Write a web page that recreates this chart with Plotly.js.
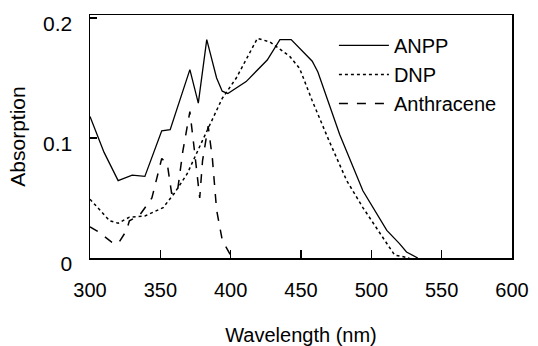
<!DOCTYPE html>
<html>
<head>
<meta charset="utf-8">
<script src="https://cdn.plot.ly/plotly-3.0.1.min.js"></script>
<style>html,body{margin:0;padding:0;background:#fff;}#chart{width:538px;height:346px;}</style>
</head>
<body>
<div id="chart"></div>
<script>
// ANPP (solid)
const anppX = [300, 310, 320, 330, 339, 351, 357, 364, 371, 377, 383, 390, 394, 398, 411, 426, 435, 443, 458, 462, 477.5, 494, 511, 520, 525, 533];
const anppY = [0.118, 0.088, 0.0645, 0.069, 0.068, 0.106, 0.107, 0.133, 0.157, 0.129, 0.182, 0.150, 0.139, 0.137, 0.147, 0.165, 0.182, 0.182, 0.164, 0.155, 0.103, 0.056, 0.023, 0.012, 0.005, 0.0];
// DNP (dotted)
const dnpX = [300, 314, 320, 328, 339, 352, 360, 369, 380, 394, 404, 411, 419, 428, 435, 442, 449, 458, 470, 482.5, 494, 506, 516.5, 527];
const dnpY = [0.049, 0.031, 0.029, 0.034, 0.035, 0.042, 0.054, 0.070, 0.098, 0.133, 0.150, 0.165, 0.183, 0.180, 0.174, 0.168, 0.158, 0.131, 0.0975, 0.0645, 0.042, 0.021, 0.0025, 0.0];
// Anthracene (dashed)
const anthX = [300, 307, 315.6, 320, 326, 328, 335.5, 344, 351, 355, 358, 362, 366, 371, 374.5, 378, 380, 384, 387, 390, 394, 399, 401];
const anthY = [0.026, 0.021, 0.013, 0.012, 0.023, 0.031, 0.036, 0.050, 0.083, 0.078, 0.054, 0.054, 0.089, 0.122, 0.087, 0.050, 0.081, 0.110, 0.083, 0.040, 0.015, 0.005, 0.0];

const xTicks = [300, 350, 400, 450, 500, 550, 600];
const yTicks = [0, 0.1, 0.2];
const yTickText = ['0', '0.1', '0.2'];

const FONT = 'Liberation Sans, Arial, sans-serif';

const traces = [
  {x: anppX, y: anppY, name: 'ANPP', mode: 'lines', legendgroup: 'a',
   line: {color: '#000', width: 1.3, dash: 'solid'}},
  {x: dnpX, y: dnpY, name: 'DNP', mode: 'lines', legendgroup: 'b',
   line: {color: '#000', width: 1.5, dash: 'dot'}},
  {x: anthX, y: anthY, name: 'Anthracene', mode: 'lines', legendgroup: 'c',
   line: {color: '#000', width: 1.5, dash: 'dash'}}
];

const layout = {
  width: 538, height: 346,
  margin: {l: 90, r: 26, t: 13, b: 88},
  paper_bgcolor: '#fff', plot_bgcolor: '#fff',
  font: {family: FONT, color: '#000', size: 20},
  showlegend: true,
  legend: {x: 0.578, y: 0.955, xanchor: 'left', yanchor: 'top',
           bgcolor: 'rgba(0,0,0,0)', font: {size: 20, family: FONT},
           tracegroupgap: 0, traceorder: 'grouped', itemwidth: 50},
  xaxis: {
    range: [300, 600], tickvals: xTicks, ticks: 'inside', ticklen: 8, tickwidth: 1.2,
    tickcolor: '#000', showline: true, linecolor: '#000', linewidth: 1.5, mirror: true,
    showgrid: false, zeroline: false, ticklabelstandoff: 13,
    tickfont: {size: 20, family: FONT},
    title: {text: 'Wavelength (nm)', font: {size: 20, family: FONT}, standoff: 30}
  },
  yaxis: {
    range: [0, 0.2025], tickvals: yTicks, ticktext: yTickText, ticks: 'inside', ticklen: 7,
    tickwidth: 1.2, tickcolor: '#000', showline: true, linecolor: '#000', linewidth: 1.5,
    mirror: true, showgrid: false, zeroline: false, ticklabelstandoff: 12, ticklabelshift: 6,
    automargin: true,
    tickfont: {size: 21, family: FONT},
    title: {text: 'Absorption', font: {size: 21, family: FONT}, standoff: 11}
  }
};

Plotly.newPlot('chart', traces, layout, {staticPlot: true, displayModeBar: false});
</script>
</body>
</html>
